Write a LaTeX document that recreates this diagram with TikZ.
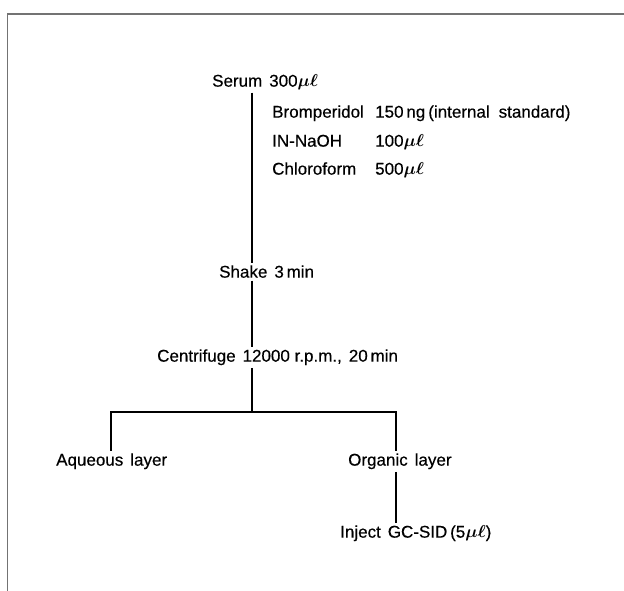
\documentclass[tikz,border=0pt]{standalone}
\usepackage{fontspec}
\usepackage{amsmath}
\setmainfont{Liberation Sans}
\newcommand{\muell}{$\boldsymbol{\mu\ell}$}
\begin{document}
\begin{tikzpicture}[x=1pt,y=-1pt,
  lbl/.style={inner xsep=0pt, inner ysep=2.5pt, anchor=mid west, font=\fontsize{17}{20}\selectfont\addfontfeatures{FakeBold=0.4}},
  link/.style={line width=1.4pt, draw=black},
  frame/.style={line width=1.5pt, draw=black!55}]
\useasboundingbox (0,0) rectangle (624,591);
\draw[frame] (7.5,591) -- (7.5,14) -- (624,14);

\node[lbl] (serum) at (212,84) {Serum\hspace{7pt}300\muell};
\node[lbl] (brom) at (272,115) {Bromperidol};
\node[lbl] (bromamt) at (375,115) {150\,ng\hspace{3pt}(internal\hspace{9pt}standard)};
\node[lbl] (naoh) at (272,144) {IN-NaOH};
\node[lbl] (naohamt) at (375,144) {100\muell};
\node[lbl] (chl) at (272,172) {Chloroform};
\node[lbl] (chlamt) at (375,172) {500\muell};
\node[lbl] (shake) at (219,275) {Shake\hspace{7pt}3\,min};
\node[lbl] (cent) at (157,359) {Centrifuge\hspace{7pt}12000 r.p.m.,\hspace{7pt}20\,min};
\node[lbl] (aq) at (56,463) {Aqueous\hspace{7pt}layer};
\node[lbl] (org) at (348,463) {Organic\hspace{7pt}layer};
\node[lbl] (inj) at (340,535) {Inject\hspace{7pt}GC-SID\,(5\muell)};

\coordinate (spine) at (252,0);
\coordinate (split) at (252,412);
\coordinate (aqtop) at (111,412);
\coordinate (orgtop) at (396,412);

\draw[link] (serum.south -| spine) -- (shake.north -| spine);
\draw[link] (shake.south -| spine) -- (cent.north -| spine);
\draw[link] (cent.south -| spine) -- (split);
\draw[link] (aq.north -| aqtop) -- (aqtop) -- (orgtop) -- (org.north -| orgtop);
\draw[link] (org.south -| orgtop) -- (inj.north -| orgtop);
\end{tikzpicture}
\end{document}
